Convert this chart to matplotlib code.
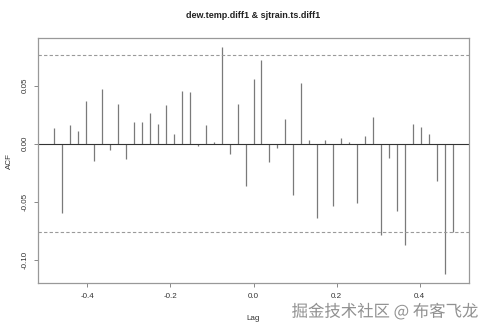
import matplotlib
matplotlib.use("Agg")
import matplotlib.pyplot as plt
import matplotlib.patheffects as pe
import numpy as np

title = "dew.temp.diff1 & sjtrain.ts.diff1"
freq = 52
lag_k = list(range(-25, 26))
acf_vals = [
    0.0137, -0.0600, 0.0157, 0.0109, 0.0363, -0.0149, 0.0466, -0.0051, 0.0343, -0.0131,
    0.0183, 0.0186, 0.0260, 0.0166, 0.0329, 0.0086, 0.0454, 0.0443, -0.0020, 0.0157,
    0.0010, 0.0829, -0.0094, 0.0337, -0.0366, 0.0560, 0.0720, -0.0160, -0.0037, 0.0209,
    -0.0446, 0.0526, 0.0030, -0.0643, 0.0030, -0.0534, 0.0049, 0.0010, -0.0514, 0.0063,
    0.0226, -0.0791, -0.0120, -0.0577, -0.0877, 0.0171, 0.0140, 0.0086, -0.0326, -0.1123,
    -0.0766,
]
ci = 0.0765
xticks = [-0.4, -0.2, 0.0, 0.2, 0.4]
xtick_labels = ["-0.4", "-0.2", "0.0", "0.2", "0.4"]
yticks = [-0.10, -0.05, 0.00, 0.05]
ytick_labels = ["-0.10", "-0.05", "0.00", "0.05"]
watermark = "掘金技术社区 @ 布客飞龙"

lags = np.array(lag_k) / freq

fig = plt.figure(figsize=(4.88, 3.30), dpi=100)
ax = fig.add_axes([38 / 488, 1 - 283 / 330, (469 - 38) / 488, (283 - 38.3) / 330])

ax.vlines(lags, 0, acf_vals, color="#7a7a7a", linewidth=0.9)
ax.axhline(0, color="#333333", linewidth=0.8)
ax.axhline(ci, color="#9a9a9a", linewidth=0.8, linestyle=(0, (3, 2)))
ax.axhline(-ci, color="#9a9a9a", linewidth=0.8, linestyle=(0, (3, 2)))

lo = min(min(acf_vals), -ci)
hi = max(max(acf_vals), ci)
pad = 0.04 * (hi - lo)
ax.set_ylim(lo - pad, hi + pad)
xr = lags[-1] - lags[0]
ax.set_xlim(lags[0] - 0.04 * xr, lags[-1] + 0.04 * xr)

ax.set_xticks(xticks)
ax.set_xticklabels(xtick_labels, fontsize=5.8, family="Liberation Sans", color="#333333")
ax.set_yticks(yticks)
ax.set_yticklabels(ytick_labels, fontsize=5.8, family="Liberation Sans", color="#333333",
                   rotation=90, va="center")
ax.tick_params(axis="both", length=3, width=0.7, color="#888888", pad=4)
for s in ax.spines.values():
    s.set_color("#999999")
    s.set_linewidth(0.9)

ax.set_xlabel("Lag", fontsize=5.8, family="Liberation Sans", color="#333333", labelpad=11)
ax.set_ylabel("ACF", fontsize=5.8, family="Liberation Sans", color="#333333", labelpad=6)
fig.text(0.5 * (38 + 469) / 488, 1 - 16 / 330, title, ha="center", va="center",
         fontsize=6.5, fontweight="bold", family="Liberation Sans", color="#222222")

fig.text(478 / 488, 1 - 312 / 330, watermark, ha="right", va="center", fontsize=11.8,
         family=["Noto Sans CJK SC", "DejaVu Sans"], color="#909090",
         path_effects=[pe.withStroke(linewidth=2, foreground="white")])

fig.savefig("out.png", dpi=100)
